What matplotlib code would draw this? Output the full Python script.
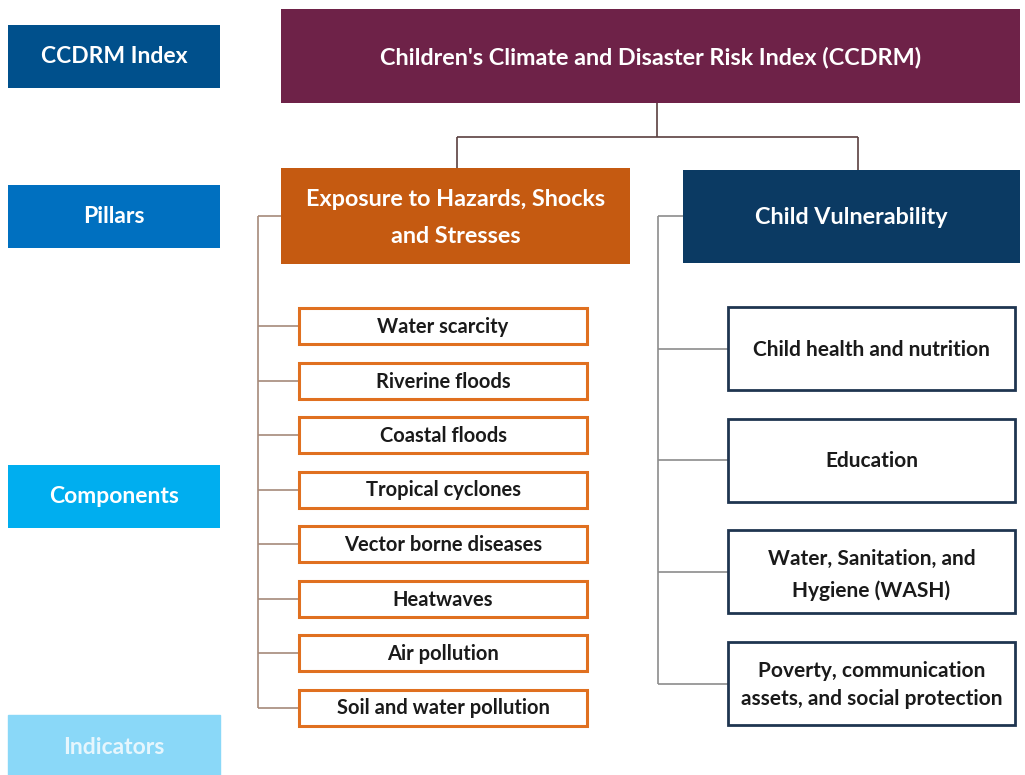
import matplotlib
matplotlib.use("Agg")
import matplotlib.pyplot as plt
from matplotlib.patches import Rectangle

plt.rcParams['font.family'] = ['Lato', 'DejaVu Sans']

# ---- content ----
level_labels = ["CCDRM Index", "Pillars", "Components", "Indicators"]
level_colors = ["#00508c", "#0070c0", "#00aeef", "#8ad8f8"]
index_title = "Children's Climate and Disaster Risk Index (CCDRM)"
pillar_labels = ["Exposure to Hazards, Shocks\nand Stresses", "Child Vulnerability"]
exposure_components = ["Water scarcity", "Riverine floods", "Coastal floods",
                       "Tropical cyclones", "Vector borne diseases", "Heatwaves",
                       "Air pollution", "Soil and water pollution"]
vulnerability_components = ["Child health and nutrition", "Education",
                            "Water, Sanitation, and\nHygiene (WASH)",
                            "Poverty, communication\nassets, and social protection"]

W, H = 1025, 775
fig = plt.figure(figsize=(W / 100, H / 100), dpi=100)
ax = fig.add_axes([0, 0, 1, 1])
ax.set_xlim(0, W)
ax.set_ylim(H, 0)
ax.axis("off")


def box(x0, y0, x1, y1, fc, ec=None, lw=0, text="", tc="white", fs=12, ls=1.45, z=2, dy=0):
    ax.add_patch(Rectangle((x0, y0), x1 - x0, y1 - y0, facecolor=fc,
                           edgecolor=ec if ec else fc, linewidth=lw, zorder=z))
    if text:
        ax.text((x0 + x1) / 2, (y0 + y1) / 2 + dy, text, ha="center", va="center",
                color=tc, fontsize=fs, fontweight="bold", zorder=z + 1,
                linespacing=ls)


def line(xs, ys, color, lw=1.2):
    ax.plot(xs, ys, color=color, linewidth=lw, zorder=1, solid_capstyle="butt")


# left level labels
level_y = [(25, 88), (185, 248), (465, 528), (715, 790)]
for lab, col, (y0, y1) in zip(level_labels, level_colors, level_y):
    if lab == "Indicators":
        ax.add_patch(Rectangle((8, y0), 212, y1 - y0, facecolor=col, edgecolor=col, zorder=2))
        ax.text(114, 748, lab, ha="center", va="center", color="#e6f6fd",
                fontsize=16.5, fontweight="bold", zorder=3)
    else:
        box(8, y0, 220, y1, col, text=lab, tc="white", fs=16.5)

# top index box
box(281, 9, 1020, 103, "#6e2248", text=index_title, fs=16.8, dy=1)

# connector from index to pillars
line([657, 657], [103, 137], "#5a4040")
line([457, 858], [137, 137], "#5a4040")
line([457, 457], [137, 168], "#5a4040")
line([858, 858], [137, 170], "#5a4040")

# pillars
box(281, 168, 630, 264, "#c55a11", text=pillar_labels[0], fs=16.8, ls=1.95, dy=2)
box(683, 170, 1020, 263, "#0b3a63", text=pillar_labels[1], fs=16.8, dy=1)

# exposure components
ex_top0, ex_step, ex_h = 308, 54.5, 36
ex_centers = [ex_top0 + i * ex_step + ex_h / 2 for i in range(len(exposure_components))]
line([258, 281], [216, 216], "#a68a7a")
line([258, 258], [216, ex_centers[-1]], "#a68a7a")
for lab, cy in zip(exposure_components, ex_centers):
    line([258, 299], [cy, cy], "#a68a7a")
    box(299, cy - ex_h / 2, 587, cy + ex_h / 2, "white", ec="#e07020", lw=2.2,
        text=lab, tc="#1a1a1a", fs=14.5, dy=1)

# vulnerability components
vu_top0, vu_step, vu_h = 307, 111.7, 83
vu_centers = [vu_top0 + i * vu_step + vu_h / 2 for i in range(len(vulnerability_components))]
vu_ls = [1.4, 1.4, 1.7, 1.5]
vu_dy = [1, 1, 3, 1]
line([658, 683], [216, 216], "#8c8c8c")
line([658, 658], [216, vu_centers[-1]], "#8c8c8c")
for lab, cy, ls, d in zip(vulnerability_components, vu_centers, vu_ls, vu_dy):
    line([658, 728], [cy, cy], "#8c8c8c")
    box(728, cy - vu_h / 2, 1015, cy + vu_h / 2, "white", ec="#1f3550", lw=2.0,
        text=lab, tc="#1a1a1a", fs=15, ls=ls, dy=d)

fig.savefig("out.png", dpi=100)
